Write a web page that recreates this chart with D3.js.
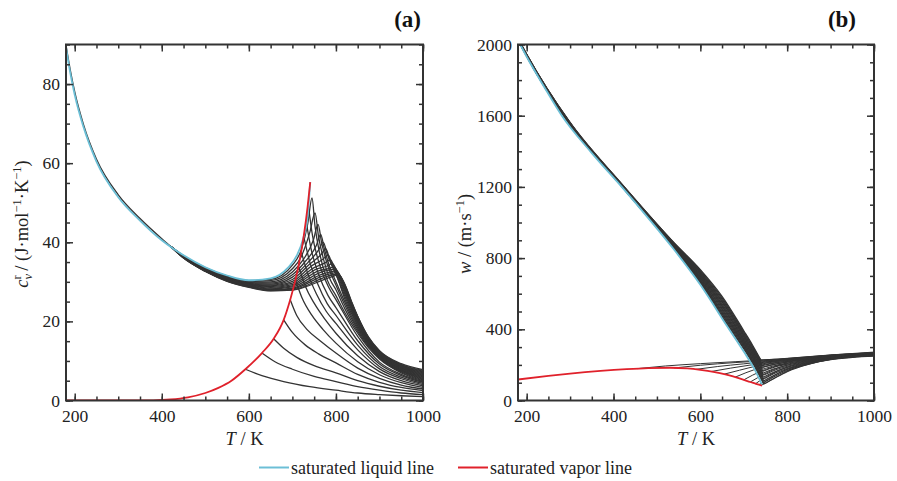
<!DOCTYPE html>
<html>
<head>
<meta charset="utf-8">
<script src="https://cdn.jsdelivr.net/npm/d3@7"></script>
<style>
body { margin: 0; background: #fff; }
svg { font-family: "Liberation Serif", "Times New Roman", serif; }
.tick text { font-family: "Liberation Serif", "Times New Roman", serif; font-size: 17.5px; fill: #222; }
.tick line { stroke: #333; stroke-width: 1.5px; }
</style>
</head>
<body>
<svg id="chart" width="897" height="481"></svg>
<script>
// ---------- panel (a): residual isochoric heat capacity ----------
var cvSatLiqT = [180, 190, 200, 220, 250, 300, 350, 400, 450, 500, 550, 600, 650, 690, 710, 725, 735, 741];
var cvSatLiq  = [89.3, 82.7, 77.3, 69.2, 60.4, 51.4, 45.5, 40.5, 36.7, 33.7, 31.6, 30.4, 30.9, 33.6, 36.6, 41.0, 46.5, 55.2];
var cvSatVapT = [180, 300, 380, 420, 460, 500, 530, 560, 592, 630, 657, 680, 695, 707, 714, 726, 735, 741];
var cvSatVap  = [0, 0, 0.05, 0.25, 0.8, 1.9, 3.2, 5.0, 7.9, 12.0, 15.6, 20.4, 25.5, 30.5, 34.0, 41.5, 49.0, 55.2];

// compressed-liquid part shared by all isobars
var cvCommonT = [180, 190, 200, 220, 250, 300, 350, 400, 420];
var cvCommon  = [89.8, 83.4, 78.0, 69.8, 61.0, 52.0, 46.0, 40.9, 39.0];

// supercritical isobars: liquid side, peak region, tail
var cvLiqT = [420, 450, 500, 550, 600, 650, 700];
var cvLiq = [
  [39.0, 36.6, 33.6, 31.5, 30.3, 30.6, 34.2],
  [39.0, 36.6, 33.5, 31.4, 30.1, 30.3, 33.3],
  [39.0, 36.5, 33.4, 31.3, 29.9, 30.0, 32.5],
  [39.0, 36.5, 33.4, 31.2, 29.8, 29.7, 31.8],
  [39.0, 36.4, 33.3, 31.1, 29.6, 29.4, 31.2],
  [39.0, 36.4, 33.2, 31.0, 29.5, 29.2, 30.6],
  [39.0, 36.3, 33.2, 30.9, 29.4, 29.0, 30.1],
  [39.0, 36.3, 33.1, 30.8, 29.3, 28.8, 29.7],
  [39.0, 36.3, 33.0, 30.7, 29.2, 28.6, 29.3],
  [39.0, 36.2, 32.9, 30.6, 29.1, 28.4, 29.0],
  [39.0, 36.2, 32.9, 30.5, 29.0, 28.2, 28.7],
  [39.0, 36.1, 32.8, 30.4, 28.9, 28.0, 28.4],
  [39.0, 36.1, 32.7, 30.3, 28.8, 27.9, 28.2],
  [39.0, 36.0, 32.7, 30.2, 28.7, 27.8, 28.0],
  [39.0, 36.0, 32.6, 30.1, 28.6, 27.7, 27.9]
];
var cvPeak = [
  [[720, 38.0], [735, 44.5], [745, 51.2], [752, 44.0], [762, 37.5], [780, 30.5], [800, 26.5]],
  [[720, 36.3], [740, 42.5], [752, 47.4], [760, 41.5], [772, 35.5], [787, 30.5], [800, 28.0]],
  [[725, 35.6], [748, 40.5], [759, 44.5], [767, 40.0], [780, 34.5], [800, 29.2]],
  [[730, 35.2], [755, 39.2], [765, 42.0], [773, 38.5], [785, 34.0], [800, 30.0]],
  [[735, 34.8], [760, 38.0], [771, 40.0], [780, 37.0], [790, 34.3], [805, 30.6]],
  [[740, 34.5], [765, 36.8], [777, 38.3], [786, 35.5], [800, 32.0]],
  [[745, 34.1], [770, 35.7], [782, 36.8], [792, 34.2], [805, 31.3]],
  [[750, 33.6], [775, 34.8], [787, 35.6], [797, 33.5], [808, 31.0]],
  [[755, 33.2], [780, 34.0], [792, 34.6], [801, 33.0], [812, 30.5]],
  [[760, 32.8], [785, 33.4], [796, 33.8], [806, 32.0]],
  [[765, 32.4], [787, 33.0], [798, 33.2]],
  [[770, 32.0], [790, 32.6], [800, 32.8]],
  [[775, 31.7], [793, 32.2], [802, 32.4]],
  [[778, 31.3], [796, 31.9], [804, 32.1]],
  [[780, 30.9], [798, 31.6], [806, 31.8]]
];
var cvTailT = [820, 835, 850, 875, 900, 950, 1000];
var cvTail = [
  [22.3, 19.5, 17.0, 13.3, 10.5, 7.0, 5.0],
  [23.3, 20.2, 17.5, 13.6, 10.7, 7.2, 5.2],
  [24.2, 20.9, 18.0, 13.9, 10.9, 7.4, 5.4],
  [25.0, 21.5, 18.4, 14.1, 11.0, 7.5, 5.6],
  [25.8, 22.1, 18.8, 14.3, 11.2, 7.7, 5.8],
  [26.5, 22.6, 19.2, 14.5, 11.3, 7.8, 6.0],
  [27.1, 23.1, 19.6, 14.7, 11.5, 8.0, 6.2],
  [27.6, 23.5, 19.9, 14.9, 11.6, 8.2, 6.4],
  [28.1, 23.9, 20.2, 15.1, 11.8, 8.3, 6.6],
  [28.5, 24.2, 20.5, 15.3, 11.9, 8.5, 6.8],
  [28.8, 24.5, 20.7, 15.5, 12.1, 8.7, 7.0],
  [29.0, 24.7, 20.9, 15.6, 12.2, 8.8, 7.2],
  [29.2, 24.9, 21.1, 15.7, 12.3, 9.0, 7.4],
  [29.4, 25.1, 21.2, 15.9, 12.5, 9.1, 7.6],
  [29.5, 25.3, 21.3, 16.0, 12.6, 9.3, 7.8]
];

// subcritical isobars, vapour side (start on the saturated vapour line)
var cvVapour = [
  [[592, 7.9], [630, 6.3], [680, 4.8], [740, 3.5], [800, 2.6], [850, 1.9], [900, 1.5], [950, 1.2], [1000, 1.0]],
  [[630, 12.0], [660, 9.8], [700, 7.9], [750, 6.1], [800, 4.8], [850, 3.5], [900, 2.6], [950, 1.9], [1000, 1.5]],
  [[657, 15.6], [680, 13.2], [710, 10.9], [750, 8.8], [800, 7.0], [850, 5.0], [900, 3.6], [950, 2.6], [1000, 2.0]],
  [[680, 20.4], [700, 17.2], [730, 14.0], [760, 11.8], [800, 9.5], [850, 6.6], [900, 4.6], [950, 3.3], [1000, 2.5]],
  [[695, 25.5], [710, 21.5], [735, 17.8], [765, 15.0], [800, 12.0], [850, 8.2], [900, 5.6], [950, 3.9], [1000, 2.9]],
  [[707, 30.5], [722, 26.0], [745, 21.5], [770, 18.0], [800, 14.5], [850, 9.8], [900, 6.5], [950, 4.5], [1000, 3.3]],
  [[714, 34.0], [730, 28.8], [750, 24.6], [775, 20.5], [800, 17.0], [850, 11.3], [900, 7.3], [950, 5.0], [1000, 3.7]],
  [[720, 37.7], [735, 32.2], [755, 27.0], [778, 22.5], [800, 19.5], [850, 12.8], [900, 8.0], [950, 5.5], [1000, 4.0]],
  [[726, 41.5], [740, 35.0], [758, 29.5], [780, 24.5], [800, 21.5], [850, 14.0], [900, 8.6], [950, 5.9], [1000, 4.3]],
  [[731, 45.7], [743, 38.3], [760, 32.0], [782, 26.5], [800, 23.5], [850, 15.1], [900, 9.2], [950, 6.3], [1000, 4.6]],
  [[736, 50.0], [746, 41.8], [762, 34.5], [784, 28.5], [800, 25.5], [850, 16.2], [900, 9.7], [950, 6.6], [1000, 4.8]]
];

// ---------- panel (b): speed of sound ----------
var wSatLiqT = [180, 200, 240, 281, 350, 419, 480, 537, 600, 661, 700, 725, 742];
var wSatLiq  = [2024, 1931, 1763, 1600, 1390, 1200, 1025, 855, 650, 420, 275, 175, 90];
var wSatVapT = [180, 250, 300, 370, 430, 480, 530, 570, 600, 630, 660, 690, 715, 730, 742];
var wSatVap  = [118, 138, 151, 166, 176, 182, 184, 180, 172, 161, 145, 124, 104, 92, 84];

var wLiqT = [180, 200, 300, 420, 540, 600, 650, 700, 720];
var wLiq = [
  [2026, 1933, 1547, 1199, 852, 660, 468, 290, 212],
  [2027, 1934, 1548, 1200, 854, 665, 476, 297, 219],
  [2027, 1935, 1549, 1201, 857, 671, 485, 305, 226],
  [2028, 1936, 1550, 1202, 859, 676, 493, 312, 233],
  [2029, 1936, 1551, 1203, 861, 681, 501, 319, 241],
  [2029, 1937, 1552, 1204, 864, 687, 510, 326, 248],
  [2030, 1938, 1553, 1205, 866, 692, 518, 334, 255],
  [2030, 1939, 1554, 1206, 868, 697, 527, 341, 262],
  [2031, 1940, 1555, 1207, 871, 703, 535, 348, 269],
  [2032, 1941, 1556, 1208, 873, 708, 543, 356, 276],
  [2032, 1942, 1557, 1209, 876, 714, 552, 363, 283],
  [2033, 1942, 1558, 1210, 878, 719, 560, 370, 290],
  [2033, 1943, 1559, 1211, 880, 724, 568, 377, 298],
  [2034, 1944, 1560, 1212, 883, 730, 577, 385, 305],
  [2035, 1945, 1562, 1214, 885, 735, 585, 392, 312]
];
var wMinT = [746, 746, 746, 746, 745, 745, 744, 744, 743, 743, 742, 741, 740, 740, 739];
var wMin  = [92, 100, 110, 120, 131, 142, 153, 164, 175, 186, 196, 205, 213, 221, 229];
var wGasT = [770, 800, 850, 900, 950, 1000];
var wGas = [
  [124, 162, 204, 229, 242, 250],
  [133, 168, 207, 231, 243, 251],
  [142, 174, 210, 233, 245, 252],
  [151, 180, 213, 235, 246, 253],
  [160, 186, 216, 237, 248, 254],
  [169, 192, 219, 239, 249, 255],
  [178, 198, 222, 241, 251, 257],
  [187, 204, 225, 243, 252, 258],
  [195, 210, 228, 245, 254, 259],
  [203, 215, 231, 247, 255, 261],
  [210, 220, 234, 249, 257, 262],
  [216, 225, 237, 251, 258, 263],
  [221, 229, 240, 252, 260, 265],
  [226, 233, 243, 254, 261, 266],
  [231, 236, 245, 255, 262, 268]
];
var wVapour = [
  [[455, 179], [520, 194], [600, 207], [680, 218], [745, 227], [800, 237], [900, 256], [1000, 272]],
  [[540, 183], [600, 198], [680, 213], [745, 223], [800, 234], [900, 253], [1000, 270]],
  [[590, 175], [640, 191], [700, 206], [750, 219], [800, 230], [900, 251], [1000, 268]],
  [[625, 163], [670, 182], [720, 201], [760, 215], [800, 227], [900, 249], [1000, 266]],
  [[655, 148], [690, 170], [730, 194], [770, 212], [810, 225], [900, 247], [1000, 264]],
  [[680, 131], [705, 156], [740, 185], [775, 206], [815, 222], [900, 245], [1000, 262]],
  [[700, 116], [720, 142], [750, 174], [785, 200], [825, 219], [900, 243], [1000, 260]],
  [[715, 104], [732, 128], [758, 162], [790, 192], [830, 214], [900, 240], [1000, 258]],
  [[727, 94], [740, 116], [765, 150], [795, 183], [840, 211], [900, 237], [1000, 256]],
  [[735, 89], [748, 106], [770, 140], [800, 176], [845, 207], [900, 234], [1000, 254]],
  [[740, 85], [752, 100], [775, 132], [805, 170], [850, 204], [900, 231], [1000, 252]]
];

var xMajor = [200, 400, 600, 800, 1000];
var xMinor = d3.range(200, 1001, 50);

var ink = "#333333", liqColor = "#6cbfd6", vapColor = "#e0212b";
var svg = d3.select("#chart");

function makePanel(name, box, yMax) {
    var x = d3.scaleLinear().domain([180, 1000]).range([box.x0, box.x1]);
    var y = d3.scaleLinear().domain([0, yMax]).range([box.y1, box.y0]);
    svg.append("clipPath").attr("id", "clip" + name)
        .append("rect")
        .attr("x", box.x0).attr("y", box.y0)
        .attr("width", box.x1 - box.x0).attr("height", box.y1 - box.y0);
    var plot = svg.append("g").attr("clip-path", "url(#clip" + name + ")");
    var line = d3.line()
        .x(function(d) { return x(d[0]); })
        .y(function(d) { return y(d[1]); })
        .curve(d3.curveMonotoneX);
    return {x: x, y: y, box: box, plot: plot, line: line};
}

function drawLine(p, pts, color, width) {
    p.plot.append("path")
        .datum(pts)
        .attr("d", p.line)
        .attr("fill", "none")
        .attr("stroke", color)
        .attr("stroke-width", width)
        .attr("stroke-linejoin", "round");
}

function drawAxes(p, yMajor, yMinor) {
    var b = p.box;
    var fmt = d3.format("d");
    function strip(g) {
        g.select(".domain").remove();
        g.attr("font-family", null).attr("font-size", null);
    }
    // minor ticks all sides
    svg.append("g").attr("transform", "translate(0," + b.y1 + ")")
        .call(d3.axisBottom(p.x).tickValues(xMinor).tickSize(-4).tickFormat("")).call(strip);
    svg.append("g").attr("transform", "translate(0," + b.y0 + ")")
        .call(d3.axisTop(p.x).tickValues(xMinor).tickSize(-4).tickFormat("")).call(strip);
    svg.append("g").attr("transform", "translate(" + b.x0 + ",0)")
        .call(d3.axisLeft(p.y).tickValues(yMinor).tickSize(-4).tickFormat("")).call(strip);
    svg.append("g").attr("transform", "translate(" + b.x1 + ",0)")
        .call(d3.axisRight(p.y).tickValues(yMinor).tickSize(-4).tickFormat("")).call(strip);
    // major ticks
    svg.append("g").attr("transform", "translate(0," + b.y1 + ")")
        .call(d3.axisBottom(p.x).tickValues(xMajor).tickSize(-7).tickPadding(9).tickFormat(fmt)).call(strip);
    svg.append("g").attr("transform", "translate(0," + b.y0 + ")")
        .call(d3.axisTop(p.x).tickValues(xMajor).tickSize(-7).tickFormat("")).call(strip);
    svg.append("g").attr("transform", "translate(" + b.x0 + ",0)")
        .call(d3.axisLeft(p.y).tickValues(yMajor).tickSize(-7).tickPadding(6).tickFormat(fmt)).call(strip);
    svg.append("g").attr("transform", "translate(" + b.x1 + ",0)")
        .call(d3.axisRight(p.y).tickValues(yMajor).tickSize(-7).tickFormat("")).call(strip);
    // frame
    svg.append("rect")
        .attr("x", b.x0).attr("y", b.y0)
        .attr("width", b.x1 - b.x0).attr("height", b.y1 - b.y0)
        .attr("fill", "none").attr("stroke", ink).attr("stroke-width", 2);
    // x title
    var t = svg.append("text")
        .attr("x", (b.x0 + b.x1) / 2).attr("y", 445)
        .attr("text-anchor", "middle").attr("font-size", 18.5).attr("fill", "#222");
    t.append("tspan").attr("font-style", "italic").text("T");
    t.append("tspan").text(" / K");
}

// ---------- panel (a) ----------
var pa = makePanel("a", {x0: 66, x1: 423, y0: 44.5, y1: 400.5}, 90);

drawLine(pa, d3.zip(cvCommonT, cvCommon), ink, 1.4);
cvLiq.forEach(function(row, i) {
    var pts = d3.zip(cvLiqT, row).concat(cvPeak[i]).concat(d3.zip(cvTailT, cvTail[i]));
    drawLine(pa, pts, ink, 1.3);
});
cvVapour.forEach(function(pts) { drawLine(pa, pts, ink, 1.3); });
drawLine(pa, d3.zip(cvSatLiqT, cvSatLiq), liqColor, 1.8);
drawLine(pa, d3.zip(cvSatVapT, cvSatVap), vapColor, 1.8);

drawAxes(pa, [0, 20, 40, 60, 80], d3.range(0, 91, 5));

var ya = svg.append("text")
    .attr("transform", "translate(28,224) rotate(-90)")
    .attr("text-anchor", "middle").attr("font-size", 18.5).attr("fill", "#222");
ya.append("tspan").attr("font-style", "italic").text("c");
ya.append("tspan").attr("font-style", "italic").attr("font-size", 12.5).attr("dy", 4).text("v");
ya.append("tspan").attr("font-size", 12.5).attr("dx", -5.5).attr("dy", -11).text("r");
ya.append("tspan").attr("dy", 7).text(" / (J·mol");
ya.append("tspan").attr("font-size", 12.5).attr("dy", -7).text("−1");
ya.append("tspan").attr("dy", 7).text("·K");
ya.append("tspan").attr("font-size", 12.5).attr("dy", -7).text("−1");
ya.append("tspan").attr("dy", 7).text(")");

svg.append("text").attr("x", 421).attr("y", 27)
    .attr("text-anchor", "end").attr("font-size", 23).attr("font-weight", "bold")
    .attr("fill", "#111").text("(a)");

// ---------- panel (b) ----------
var pb = makePanel("b", {x0: 518, x1: 874, y0: 44.5, y1: 400.5}, 2000);

wLiq.forEach(function(row, i) {
    var down = d3.zip(wLiqT, row).concat([[wMinT[i], wMin[i]]]);
    var up = [[wMinT[i], wMin[i]]].concat(d3.zip(wGasT, wGas[i]));
    drawLine(pb, down, ink, 1.3);
    drawLine(pb, up, ink, 1.1);
});
wVapour.forEach(function(pts) { drawLine(pb, pts, ink, 1.0); });
drawLine(pb, d3.zip(wSatLiqT, wSatLiq), liqColor, 1.8);
drawLine(pb, d3.zip(wSatVapT, wSatVap), vapColor, 1.8);

drawAxes(pb, [0, 400, 800, 1200, 1600, 2000], d3.range(0, 2001, 100));

var yb = svg.append("text")
    .attr("transform", "translate(471,234) rotate(-90)")
    .attr("text-anchor", "middle").attr("font-size", 18.5).attr("fill", "#222");
yb.append("tspan").attr("font-style", "italic").text("w");
yb.append("tspan").text(" / (m·s");
yb.append("tspan").attr("font-size", 12.5).attr("dy", -7).text("−1");
yb.append("tspan").attr("dy", 7).text(")");

svg.append("text").attr("x", 856).attr("y", 27)
    .attr("text-anchor", "end").attr("font-size", 23).attr("font-weight", "bold")
    .attr("fill", "#111").text("(b)");

// ---------- legend ----------
var legend = [
    {label: "saturated liquid line", color: liqColor, x: 259},
    {label: "saturated vapor line", color: vapColor, x: 458}
];
legend.forEach(function(d) {
    svg.append("line")
        .attr("x1", d.x).attr("x2", d.x + 30)
        .attr("y1", 467.5).attr("y2", 467.5)
        .attr("stroke", d.color).attr("stroke-width", 2);
    svg.append("text")
        .attr("x", d.x + 32).attr("y", 474)
        .attr("font-size", 18).attr("fill", "#222")
        .text(d.label);
});
</script>
</body>
</html>
